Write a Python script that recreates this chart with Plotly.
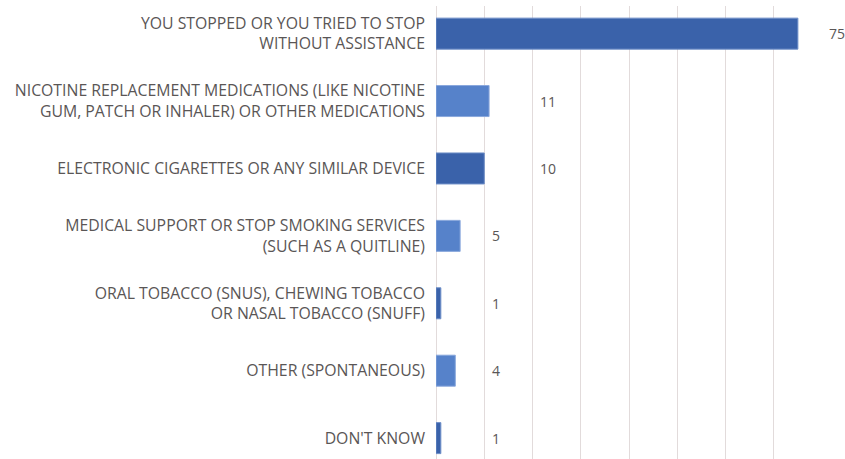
import math
import plotly.graph_objects as go

categories = [
    "YOU STOPPED OR YOU TRIED TO STOP<br>WITHOUT ASSISTANCE",
    "NICOTINE REPLACEMENT MEDICATIONS (LIKE NICOTINE<br>GUM, PATCH OR INHALER) OR OTHER MEDICATIONS",
    "ELECTRONIC CIGARETTES OR ANY SIMILAR DEVICE",
    "MEDICAL SUPPORT OR STOP SMOKING SERVICES<br>(SUCH AS A QUITLINE)",
    "ORAL TOBACCO (SNUS), CHEWING TOBACCO<br>OR NASAL TOBACCO (SNUFF)",
    "OTHER (SPONTANEOUS)",
    "DON'T KNOW",
]
values = [75, 11, 10, 5, 1, 4, 1]

X_MAX = 80

DARK = "#3A62AA"
LIGHT = "#5682CA"
bar_colors = [DARK if i % 2 == 0 else LIGHT for i in range(len(values))]
edge_colors = ["#6F8FC8" if i % 2 == 0 else "#8AA8DC" for i in range(len(values))]

TEXT = "#5A5656"
FONT = "Open Sans, Noto Sans, sans-serif"

fig = go.Figure()
fig.add_trace(go.Bar(
    x=values,
    y=categories,
    orientation="h",
    width=0.46,
    marker=dict(color=bar_colors, line=dict(color=edge_colors, width=1)),
    hoverinfo="x+y",
))

# value labels sit just past the next gridline beyond each bar
# (placed in paper units so the label of the long bar can sit outside the axis range)
for cat, v in zip(categories, values):
    gx = math.ceil((v + 0.5) / 10) * 10
    fig.add_annotation(
        x=(gx + 1.1) / X_MAX, xref="paper", y=cat, yref="y",
        text=str(v), showarrow=False,
        xanchor="left", yanchor="middle",
        font=dict(family=FONT, size=14, color=TEXT),
    )

fig.update_layout(
    width=845, height=459,
    margin=dict(l=436, r=23, t=6, b=0),
    paper_bgcolor="white", plot_bgcolor="white",
    showlegend=False,
    font=dict(family=FONT, size=16, color=TEXT),
    xaxis=dict(
        range=[0, X_MAX], dtick=10, tick0=0,
        showgrid=True, gridcolor="#E2DBDB", gridwidth=1,
        zeroline=True, zerolinecolor="#E2DBDB", zerolinewidth=1,
        showticklabels=False, showline=False, fixedrange=True,
    ),
    yaxis=dict(
        type="category",
        range=[6.31, -0.41],
        showgrid=False, zeroline=False, showline=False,
        ticks="", ticklabelstandoff=10,
        tickfont=dict(family=FONT, size=15.8, color=TEXT),
        fixedrange=True,
    ),
)

fig.write_html("out.html")
